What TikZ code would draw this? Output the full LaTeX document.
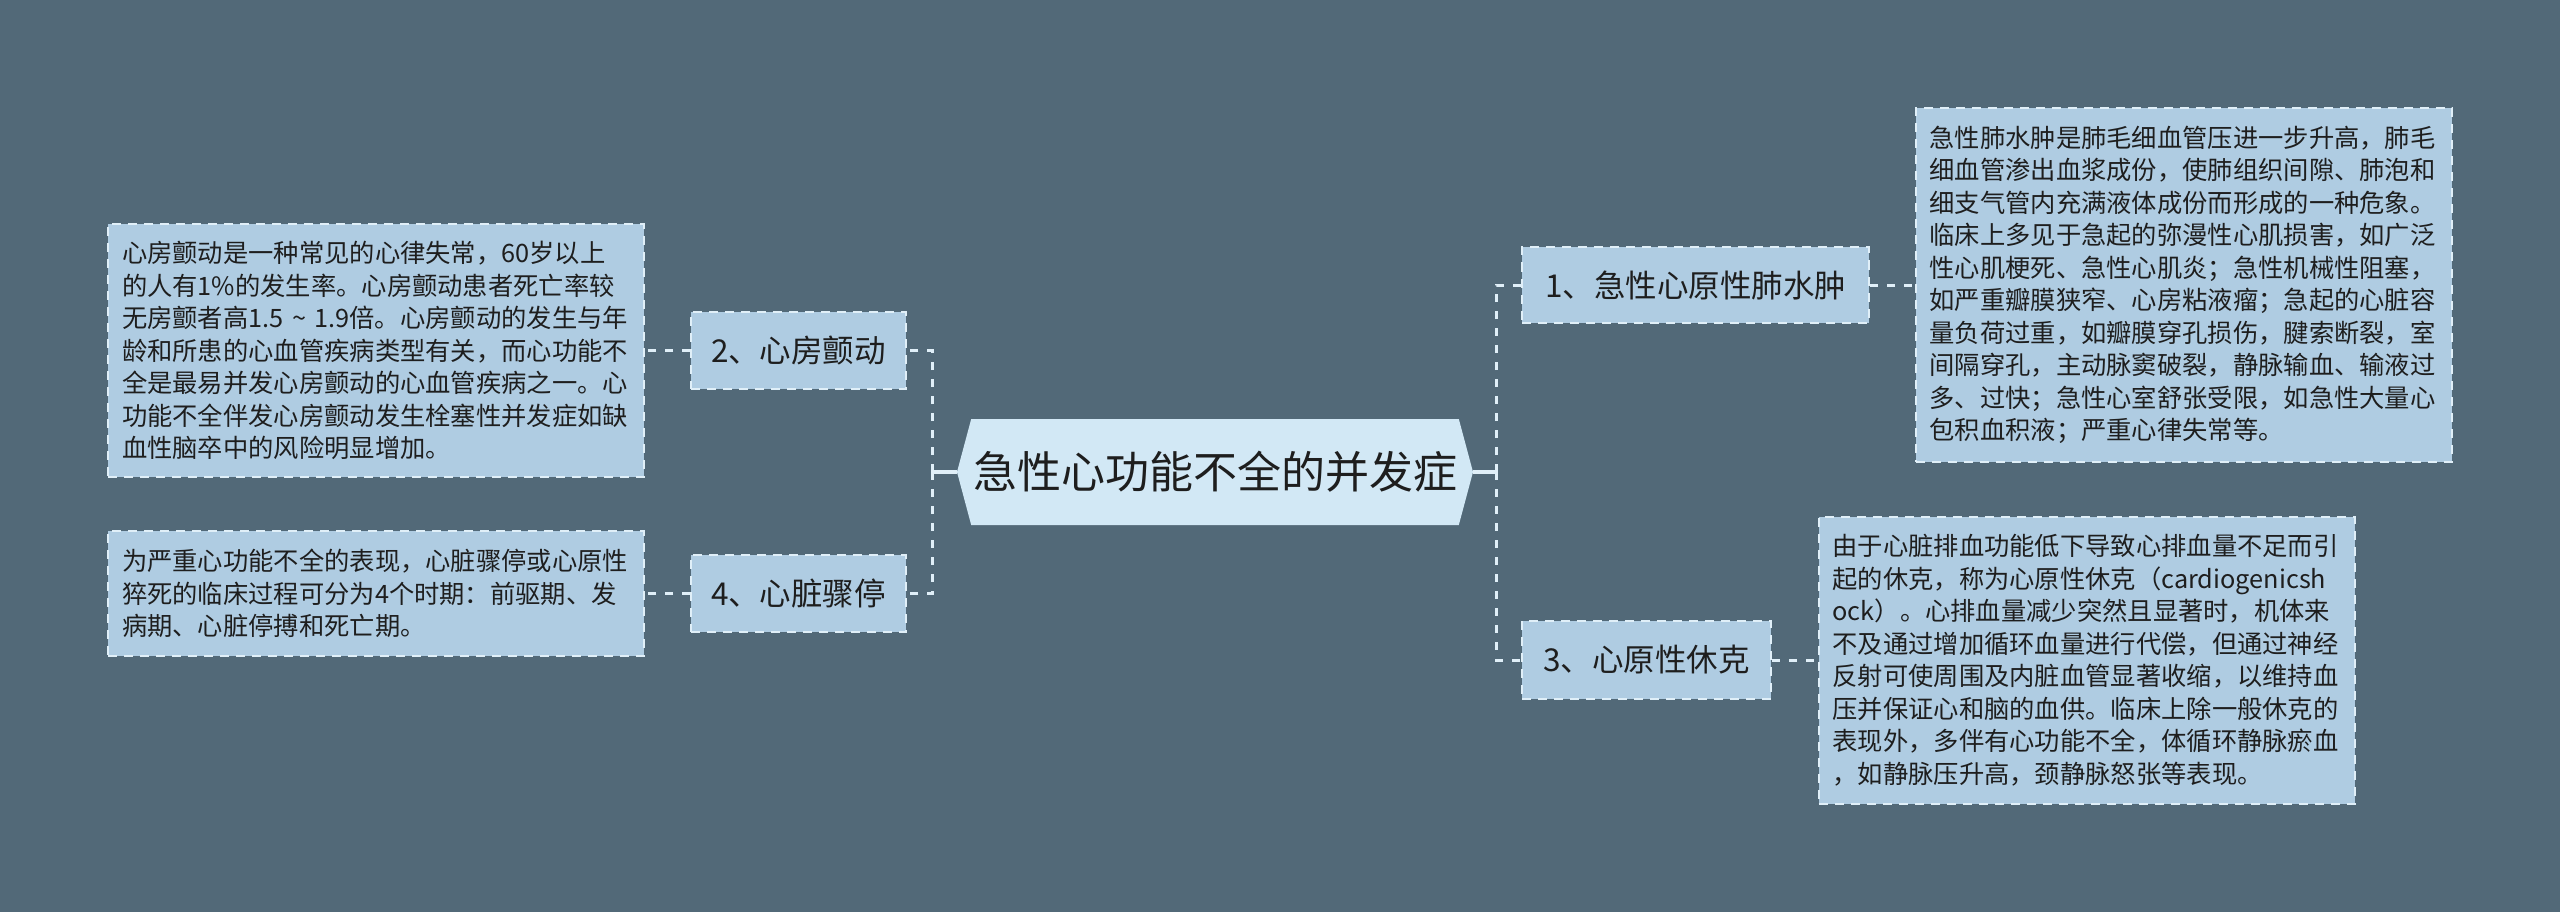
\documentclass[tikz,border=0pt]{standalone}
\usepackage{fontspec}
\setmainfont{Noto Sans CJK SC}
\usetikzlibrary{shapes.symbols}
\definecolor{bgc}{HTML}{526978}
\definecolor{boxfill}{HTML}{AFCCE2}
\definecolor{cenfill}{HTML}{D2E8F5}
\definecolor{edgec}{HTML}{E0EFF8}
\definecolor{txt}{HTML}{1E1E1E}
\tikzset{
  topic/.style={fill=boxfill, draw=edgec, line width=2pt, dash pattern=on 9pt off 7pt,
    text=txt, inner sep=0pt, align=center, font=\fontsize{31.5pt}{36pt}\selectfont},
  note/.style={fill=boxfill, draw=edgec, line width=2pt, dash pattern=on 9pt off 7pt,
    text=txt, inner xsep=14pt, inner ysep=0pt, text width=508pt, align=left,
    font=\fontsize{25.3pt}{32.5pt}\selectfont},
  central/.style={shape=signal, signal to=east and west, signal pointer angle=150,
    fill=cenfill, text=txt, inner sep=0pt, minimum width=516pt, minimum height=106pt,
    font=\fontsize{44pt}{50pt}\selectfont},
  trunk/.style={draw=edgec, line width=3pt, dash pattern=on 8pt off 9pt},
  stem/.style={draw=edgec, line width=4pt},
}
\begin{document}
\begin{tikzpicture}[x=1pt,y=-1pt]
\fill[bgc] (0,0) rectangle (2560,912);
\useasboundingbox (0,0) rectangle (2560,912);

\node[central] (c) at (1215,472) {急性心功能不全的并发症};

\node[topic, minimum width=215pt, minimum height=77pt] (n2) at (798.5,350.5) {2、心房颤动};
\node[topic, minimum width=215pt, minimum height=77pt] (n4) at (798.5,593.5) {4、心脏骤停};
\node[topic, minimum width=347pt, minimum height=75pt] (n1) at (1695.5,285) {1、急性心原性肺水肿};
\node[topic, minimum width=249pt, minimum height=78pt] (n3) at (1646.5,660) {3、心原性休克};

\node[note, minimum height=253pt] (b2) at (376,350.5) {心房颤动是一种常见的心律失常，60岁以上\\的人有1\%的发生率。心房颤动患者死亡率较\\无房颤者高1.5 \textasciitilde{} 1.9倍。心房颤动的发生与年\\龄和所患的心血管疾病类型有关，而心功能不\\全是最易并发心房颤动的心血管疾病之一。心\\功能不全伴发心房颤动发生栓塞性并发症如缺\\血性脑卒中的风险明显增加。};
\node[note, minimum height=125pt] (b4) at (376,593.5) {为严重心功能不全的表现，心脏骤停或心原性\\猝死的临床过程可分为4个时期：前驱期、发\\病期、心脏停搏和死亡期。};
\node[note, minimum height=353pt] (b1) at (2183.5,285) {急性肺水肿是肺毛细血管压进一步升高，肺毛\\细血管渗出血浆成份，使肺组织间隙、肺泡和\\细支气管内充满液体成份而形成的一种危象。\\临床上多见于急起的弥漫性心肌损害，如广泛\\性心肌梗死、急性心肌炎；急性机械性阻塞，\\如严重瓣膜狭窄、心房粘液瘤；急起的心脏容\\量负荷过重，如瓣膜穿孔损伤，腱索断裂，室\\间隔穿孔，主动脉窦破裂，静脉输血、输液过\\多、过快；急性心室舒张受限，如急性大量心\\包积血积液；严重心律失常等。};
\node[note, minimum height=287pt] (b3) at (2086.5,660) {由于心脏排血功能低下导致心排血量不足而引\\起的休克，称为心原性休克（cardiogenicsh\\ock）。心排血量减少突然且显著时，机体来\\不及通过增加循环血量进行代偿，但通过神经\\反射可使周围及内脏血管显著收缩，以维持血\\压并保证心和脑的血供。临床上除一般休克的\\表现外，多伴有心功能不全，体循环静脉瘀血\\，如静脉压升高，颈静脉怒张等表现。};

\draw[stem] (c.west) -- ++(-24,0) coordinate (lt);
\draw[stem] (c.east) -- ++(23,0) coordinate (rt);
\draw[trunk] (lt) |- (n2.east);
\draw[trunk] (lt) |- (n4.east);
\draw[trunk] (rt) |- (n1.west);
\draw[trunk] (rt) |- (n3.west);
\draw[trunk] (n2.west) -- (b2.east);
\draw[trunk] (n4.west) -- (b4.east);
\draw[trunk] (n1.east) -- (b1.west);
\draw[trunk] (n3.east) -- (b3.west);
\end{tikzpicture}
\end{document}
